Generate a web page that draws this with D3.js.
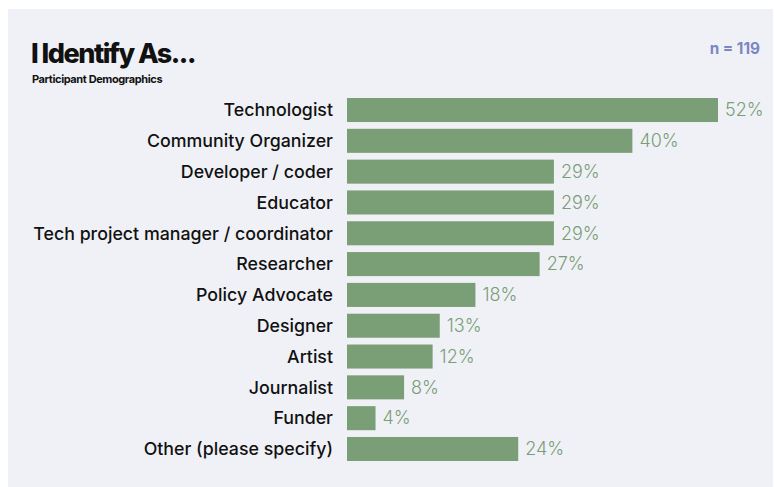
<!DOCTYPE html>
<html>
<head>
<meta charset="utf-8">
<script src="https://cdn.jsdelivr.net/npm/d3@7"></script>
<style>
  html, body { margin: 0; padding: 0; background: #ffffff; }
  svg { display: block; }
</style>
</head>
<body>
<svg id="chart" width="774" height="487"></svg>
<script>
// Survey responses: share of participants who picked each identity
const categories = [
  "Technologist",
  "Community Organizer",
  "Developer / coder",
  "Educator",
  "Tech project manager / coordinator",
  "Researcher",
  "Policy Advocate",
  "Designer",
  "Artist",
  "Journalist",
  "Funder",
  "Other (please specify)"
];
const percents = [52, 40, 29, 29, 29, 27, 18, 13, 12, 8, 4, 24];
const sampleSize = 119;

const svg = d3.select("#chart");

// panel background
svg.append("rect")
  .attr("x", 8).attr("y", 9)
  .attr("width", 765).attr("height", 478)
  .attr("fill", "#f0f1f7");

// header
svg.append("text")
  .attr("x", 31).attr("y", 63)
  .attr("font-family", "Inter, 'Open Sans', sans-serif")
  .attr("font-weight", 800)
  .attr("font-size", 27)
  .attr("letter-spacing", -1.5)
  .attr("fill", "#111111")
  .text("I Identify As...");

svg.append("text")
  .attr("x", 32).attr("y", 83)
  .attr("font-family", "Inter, 'Open Sans', sans-serif")
  .attr("font-weight", 700)
  .attr("font-size", 11)
  .attr("letter-spacing", -0.4)
  .attr("fill", "#111111")
  .text("Participant Demographics");

svg.append("text")
  .attr("x", 760).attr("y", 54)
  .attr("text-anchor", "end")
  .attr("font-family", "Inter, 'Open Sans', sans-serif")
  .attr("font-weight", 700)
  .attr("font-size", 15.3)
  .attr("fill", "#7b86c2")
  .text("n = " + sampleSize);

// scales
const x = d3.scaleLinear().domain([0, 52]).range([347, 718]);
const y = d3.scaleBand().domain(categories).range([98, 461]).paddingInner(0.22).paddingOuter(0);

const rows = svg.append("g").selectAll("g")
  .data(categories.map((c, i) => ({ c, v: percents[i] })))
  .join("g");

rows.append("rect")
  .attr("x", x(0))
  .attr("y", d => y(d.c))
  .attr("width", d => x(d.v) - x(0))
  .attr("height", y.bandwidth())
  .attr("fill", "#7a9e76");

rows.append("text")
  .attr("x", 333)
  .attr("y", d => y(d.c) + y.bandwidth() / 2)
  .attr("dy", "0.35em")
  .attr("text-anchor", "end")
  .attr("font-family", "Inter, 'Open Sans', sans-serif")
  .attr("font-weight", 500)
  .attr("font-size", 17.8)
  .attr("fill", "#111111")
  .text(d => d.c);

rows.append("text")
  .attr("x", d => x(d.v) + 7)
  .attr("y", d => y(d.c) + y.bandwidth() / 2)
  .attr("dy", "0.35em")
  .attr("font-family", "Inter, 'Open Sans', sans-serif")
  .attr("font-weight", 300)
  .attr("font-size", 18)
  .attr("fill", "#7a9e76")
  .text(d => d.v + "%");
</script>
</body>
</html>
